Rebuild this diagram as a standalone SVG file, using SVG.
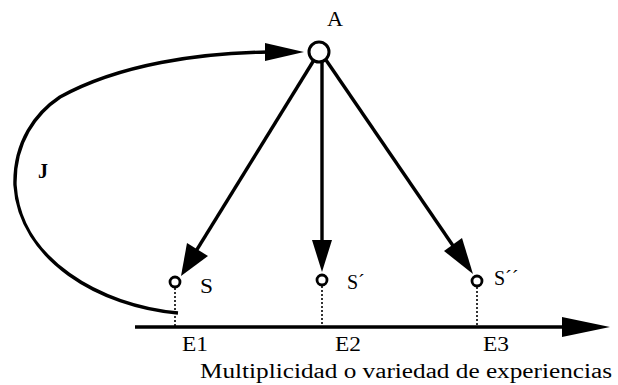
<svg xmlns="http://www.w3.org/2000/svg" width="618" height="385" viewBox="0 0 618 385">
<style>
text{font-family:"Liberation Serif","Times New Roman","DejaVu Serif",serif;font-size:20px;fill:#000}
.bold{font-weight:bold}
.ln{fill:none;stroke:#000;stroke-width:3.4}
.dot{fill:none;stroke:#000;stroke-width:1.6;stroke-dasharray:2 2}
.head{fill:#000;stroke:none}
.node{fill:#fff;stroke:#000}
</style>
<rect width="618" height="385" fill="#fff"/>
<g id="connectors">
<path class="ln" d="M178 313 C100 306,20 260,15 185 C14 142,36 113,60 97 C120 64,200 53,268 52"/>
<polygon class="head" points="304,52 265,43 265,61"/>
<line class="ln" x1="314" y1="60" x2="193" y2="256"/>
<polygon class="head" points="181,276 187,243 208,256"/>
<line class="ln" x1="322" y1="62" x2="322" y2="244"/>
<polygon class="head" points="322,272 312,240 332,240"/>
<line class="ln" x1="326" y1="60" x2="458" y2="253"/>
<polygon class="head" points="473,274 444,251 462,238"/>
<line class="ln" x1="135" y1="327" x2="565" y2="327"/>
<polygon class="head" points="610,327 562,317 562,337"/>
<line class="dot" x1="175" y1="288" x2="175" y2="326"/>
<line class="dot" x1="322" y1="286" x2="322" y2="326"/>
<line class="dot" x1="477" y1="287" x2="477" y2="326"/>
</g>
<g id="A">
<circle class="node" cx="319" cy="52" r="10" stroke-width="3"/>
<text x="327" y="26" textLength="16" lengthAdjust="spacingAndGlyphs">A</text>
</g>
<g id="J">
<text class="bold" x="38" y="178" font-size="18">J</text>
</g>
<g id="S">
<circle class="node" cx="175" cy="282" r="5" stroke-width="2.8"/>
<text x="200" y="293" textLength="13" lengthAdjust="spacingAndGlyphs">S</text>
</g>
<g id="S1">
<circle class="node" cx="322" cy="280" r="5" stroke-width="2.8"/>
<text x="347" y="289">S´</text>
</g>
<g id="S2">
<circle class="node" cx="477" cy="281" r="5" stroke-width="2.8"/>
<text x="494" y="285">S´´</text>
</g>
<g id="E1"><text x="182" y="351" textLength="26" lengthAdjust="spacingAndGlyphs">E1</text></g>
<g id="E2"><text x="335" y="351" textLength="26" lengthAdjust="spacingAndGlyphs">E2</text></g>
<g id="E3"><text x="483" y="351" textLength="26" lengthAdjust="spacingAndGlyphs">E3</text></g>
<g id="axis-label"><text x="200" y="378" textLength="412" lengthAdjust="spacingAndGlyphs">Multiplicidad o variedad de experiencias</text></g>
</svg>
